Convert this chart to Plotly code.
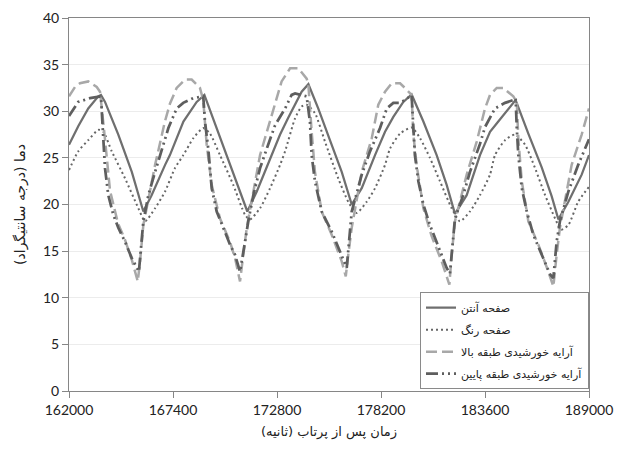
import plotly.graph_objects as go

# ---------------- data ----------------
t_antenna = [162000,162480,163000,163520,163660,163870,164560,165260,165860,166290,166990,167240,
             167940,168630,169030,169670,170360,171260,171750,172440,172960,173370,174080,174430,
             174940,175640,176160,176680,177200,177890,178410,178840,179360,179790,180400,181090,
             181610,182040,182650,183340,183860,184290,184810,185190,185850,186540,187060,187410,
             187930,188620,189000]
antenna = [26.4,28.4,30.3,31.6,31.75,31.0,27.5,23.5,19.25,21.0,24.25,25.3,
           28.9,31.0,31.75,28.2,24.25,19.25,21.4,25.0,27.5,29.25,32.1,32.9,
           30.3,26.4,23.5,20.0,21.75,25.3,27.8,29.4,31.0,31.8,28.9,25.3,
           22.1,19.0,21.0,25.3,27.8,28.9,30.3,31.2,27.6,24.0,20.9,18.4,
           20.3,23.2,25.3]

t_paint = [162000,162480,163000,163520,163780,164220,164910,165600,165950,166470,166990,167500,
           167940,168450,168970,169320,169840,170530,171140,171400,171920,172440,172960,173220,
           173740,174080,174340,174770,175290,175980,176500,176940,177460,177890,178410,178670,
           179190,179790,180230,180740,181260,181870,182300,182820,183340,183860,184120,184640,
           185160,185680,186200,186720,187240,187550,187930,188440,189000]
paint = [23.7,25.7,26.9,28.0,27.8,25.7,22.8,19.6,18.2,19.6,21.4,23.9,
         25.3,27.1,28.2,27.6,25.3,22.1,18.9,18.4,19.6,21.75,24.25,25.7,
         29.25,30.5,30.7,29.8,26.75,22.8,20.3,19.1,20.3,21.75,24.25,26.0,
         27.6,28.25,27.1,25.0,22.5,19.6,18.2,19.25,21.0,23.2,25.3,26.9,
         27.5,26.4,23.9,21.0,18.5,17.3,17.8,20.3,21.9]

t_upper = [162000,162310,162570,163000,163440,163610,163820,164130,164540,164910,165270,165570,
           165690,165860,166470,166980,167240,167590,168020,168370,168800,168970,169150,169410,
           169840,170360,170620,170880,171050,171230,171920,172440,172700,173040,173480,173910,
           174340,174430,174600,174770,175120,175640,176160,176370,176500,176680,177200,177720,
           178060,178410,178760,179190,179540,179790,179880,180050,180400,180830,181350,181750,
           181870,182040,182650,183170,183600,183860,184210,184550,185070,185250,185330,185510,
           185850,186370,186890,187150,187320,187490,188100,188620,189000]
upper = [31.6,32.6,33.0,33.2,32.6,32.1,28.0,21.5,18.0,16.2,14.0,11.75,
         13.9,17.8,24.25,28.9,30.8,32.5,33.4,33.4,32.5,31.2,26.4,22.1,
         18.5,16.0,14.25,11.75,14.6,17.5,25.3,28.9,30.7,33.2,34.6,34.6,
         33.5,32.8,27.8,23.5,19.25,16.75,13.9,12.3,14.6,17.5,23.5,27.1,
         30.7,32.1,33.0,33.0,32.3,31.75,27.5,24.25,19.6,16.6,13.9,11.4,
         14.6,18.2,23.2,26.75,30.3,31.75,32.5,32.5,31.6,31.0,27.1,22.5,
         18.2,15.7,12.8,11.2,14.6,17.5,24.25,27.5,30.3]

t_lower = [162000,162480,163090,163660,163780,163870,164040,164300,164560,164910,165260,165630,
           165860,166120,166470,166810,167160,167590,167930,168450,168970,169060,169230,169410,
           169670,170010,170360,170620,170880,171140,171310,171570,171920,172270,172700,173220,
           173560,173740,174080,174340,174510,174600,174770,175120,175640,176070,176420,176540,
           176680,177200,177630,178150,178500,178840,179190,179450,179790,179880,179960,180140,
           180400,180740,181260,181610,181780,181920,182040,182470,182820,183340,183600,184120,
           184640,185070,185190,185250,185330,185510,185770,186110,186540,186980,187150,187320,
           187490,187930,188440,189000]
lower = [29.5,31.0,31.4,31.6,27.1,23.9,21.0,18.9,17.5,16.0,14.25,12.8,
         18.2,21.0,23.5,25.7,28.2,30.3,30.9,31.4,31.6,28.9,26.0,21.75,
         19.25,17.5,15.7,14.6,12.8,16.0,18.2,21.0,23.9,26.0,28.5,30.3,
         31.75,31.9,31.75,31.6,28.9,25.3,22.5,19.25,17.1,15.0,13.2,16.0,
         19.25,23.2,25.7,28.2,30.3,30.9,30.9,31.2,31.75,28.2,25.3,22.5,
         20.0,17.8,15.0,13.2,12.6,16.0,18.5,21.0,23.5,26.5,28.3,30.3,
         30.9,31.2,31.4,28.2,25.3,21.75,19.25,16.75,14.6,12.5,12.1,16.0,
         18.2,21.4,24.25,27.0]

names = ["صفحه آنتن", "صفحه رنگ", "آرایه خورشیدی طبقه بالا", "آرایه خورشیدی طبقه پایین"]
x_ticks = [162000, 167400, 172800, 178200, 183600, 189000]
RLM = "\u200f"
y_title = "دما (درجه سانتیگراد)" + RLM
x_title = "زمان پس از پرتاب (ثانیه)" + RLM

# ---------------- figure ----------------
fig = go.Figure()
styles = [
    dict(color="#6f6f6f", width=2.25, dash="solid"),
    dict(color="#666666", width=2, dash="2px,3px", shape="spline", smoothing=0.6),
    dict(color="#a8a8a8", width=2.5, dash="11px,5px"),
    dict(color="#5e5e5e", width=2.75, dash="12px,4px,2px,4px,2px,4px"),
]
series = [(t_antenna, antenna), (t_paint, paint), (t_upper, upper), (t_lower, lower)]
for i, ((tx, vy), nm, st) in enumerate(zip(series, names, styles)):
    fig.add_trace(go.Scatter(x=tx, y=vy, mode="lines", name=nm, line=st,
                             legendgroup=f"g{i}"))

axis_col = "#868686"
# page body adds an 8px margin, so the figure is sized to fit the 624x468 window
fig.update_layout(
    width=608, height=452,
    margin=dict(l=61, r=27, t=10, b=69),
    paper_bgcolor="white", plot_bgcolor="white",
    font=dict(family="Lato, DejaVu Sans", size=14, color="#222222"),
    showlegend=True,
    legend=dict(x=1, xanchor="right", y=0.005, yanchor="bottom",
                bgcolor="white", bordercolor="#8a8a8a", borderwidth=1,
                font=dict(family="DejaVu Sans", size=11, color="#222222"),
                traceorder="grouped", tracegroupgap=3),
    xaxis=dict(range=[162000, 189000], tickvals=x_ticks, tickformat="d",
               automargin=False,
               showgrid=False, zeroline=False,
               showline=True, linecolor=axis_col, linewidth=1, mirror=True,
               ticks="outside", ticklen=6, tickcolor=axis_col,
               tickfont=dict(family="Lato", size=14, color="#222222"),
               title=dict(text=x_title, font=dict(family="DejaVu Sans", size=13, color="#222222"),
                          standoff=10)),
    yaxis=dict(range=[0, 40], dtick=5, showgrid=True, gridcolor="#ececec", gridwidth=1,
               automargin=False,
               zeroline=False,
               showline=True, linecolor=axis_col, linewidth=1, mirror=True,
               ticks="outside", ticklen=6, tickcolor=axis_col,
               tickfont=dict(family="Lato", size=14, color="#222222"),
               title=dict(text=y_title, font=dict(family="DejaVu Sans", size=14, color="#222222"),
                          standoff=14)),
)

fig.write_html("out.html")
